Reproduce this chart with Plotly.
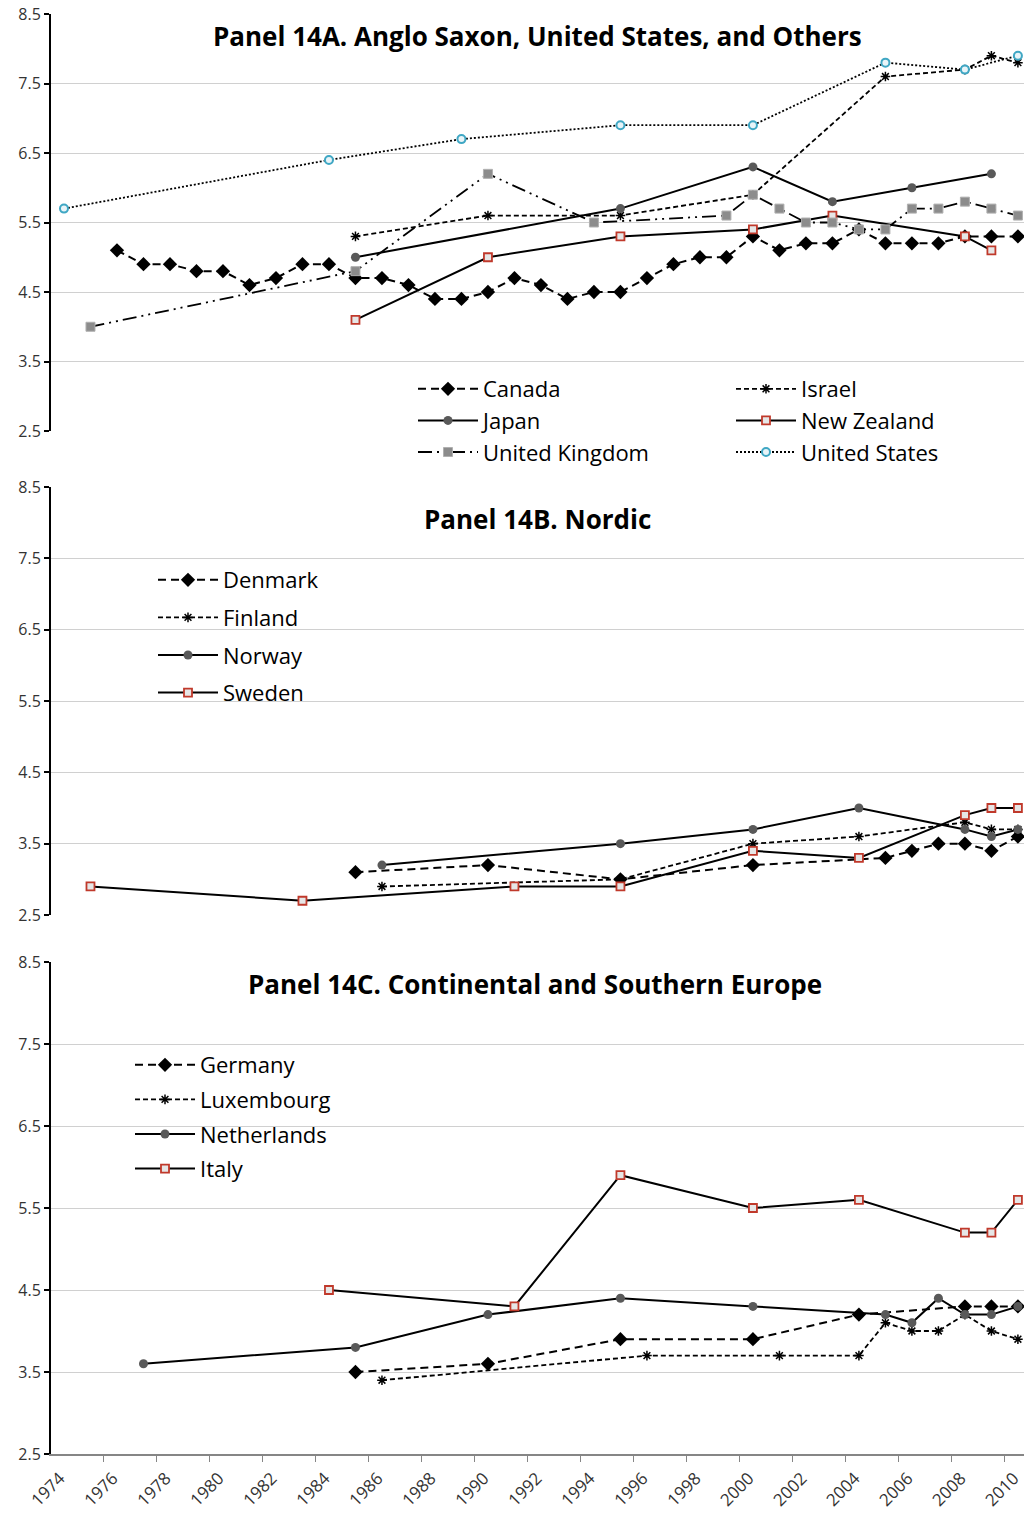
import plotly.graph_objects as go

# ---------------- data ----------------
# Panel A
canada_years = list(range(1976, 2011))
canada_vals = [5.1, 4.9, 4.9, 4.8, 4.8, 4.6, 4.7, 4.9, 4.9, 4.7, 4.7, 4.6, 4.4, 4.4, 4.5,
               4.7, 4.6, 4.4, 4.5, 4.5, 4.7, 4.9, 5.0, 5.0, 5.3, 5.1, 5.2, 5.2, 5.4, 5.2,
               5.2, 5.2, 5.3, 5.3, 5.3]
israel_years = [1985, 1990, 1995, 2000, 2005, 2008, 2009, 2010]
israel_vals = [5.3, 5.6, 5.6, 5.9, 7.6, 7.7, 7.9, 7.8]
japan_years = [1985, 1995, 2000, 2003, 2006, 2009]
japan_vals = [5.0, 5.7, 6.3, 5.8, 6.0, 6.2]
nz_years = [1985, 1990, 1995, 2000, 2003, 2008, 2009]
nz_vals = [4.1, 5.0, 5.3, 5.4, 5.6, 5.3, 5.1]
uk_years = [1975, 1985, 1990, 1994, 1999, 2000, 2001, 2002, 2003, 2004, 2005, 2006, 2007,
            2008, 2009, 2010]
uk_vals = [4.0, 4.8, 6.2, 5.5, 5.6, 5.9, 5.7, 5.5, 5.5, 5.4, 5.4, 5.7, 5.7, 5.8, 5.7, 5.6]
us_years = [1974, 1984, 1989, 1995, 2000, 2005, 2008, 2010]
us_vals = [5.7, 6.4, 6.7, 6.9, 6.9, 7.8, 7.7, 7.9]

# Panel B
denmark_years = [1985, 1990, 1995, 2000, 2005, 2006, 2007, 2008, 2009, 2010]
denmark_vals = [3.1, 3.2, 3.0, 3.2, 3.3, 3.4, 3.5, 3.5, 3.4, 3.6]
finland_years = [1986, 1995, 2000, 2004, 2008, 2009, 2010]
finland_vals = [2.9, 3.0, 3.5, 3.6, 3.8, 3.7, 3.7]
norway_years = [1986, 1995, 2000, 2004, 2008, 2009, 2010]
norway_vals = [3.2, 3.5, 3.7, 4.0, 3.7, 3.6, 3.7]
sweden_years = [1975, 1983, 1991, 1995, 2000, 2004, 2008, 2009, 2010]
sweden_vals = [2.9, 2.7, 2.9, 2.9, 3.4, 3.3, 3.9, 4.0, 4.0]

# Panel C
germany_years = [1985, 1990, 1995, 2000, 2004, 2008, 2009, 2010]
germany_vals = [3.5, 3.6, 3.9, 3.9, 4.2, 4.3, 4.3, 4.3]
lux_years = [1986, 1996, 2001, 2004, 2005, 2006, 2007, 2008, 2009, 2010]
lux_vals = [3.4, 3.7, 3.7, 3.7, 4.1, 4.0, 4.0, 4.2, 4.0, 3.9]
neth_years = [1977, 1985, 1990, 1995, 2000, 2005, 2006, 2007, 2008, 2009, 2010]
neth_vals = [3.6, 3.8, 4.2, 4.4, 4.3, 4.2, 4.1, 4.4, 4.2, 4.2, 4.3]
italy_years = [1984, 1991, 1995, 2000, 2004, 2008, 2009, 2010]
italy_vals = [4.5, 4.3, 5.9, 5.5, 5.6, 5.2, 5.2, 5.6]

year_ticks = list(range(1974, 2011, 2))
y_ticks = [2.5, 3.5, 4.5, 5.5, 6.5, 7.5, 8.5]

titles = ["Panel 14A. Anglo Saxon, United States, and Others",
          "Panel 14B. Nordic",
          "Panel 14C. Continental and Southern Europe"]

# ---------------- styles ----------------
FONT = "Open Sans"
DIAMOND = dict(symbol="diamond", size=11, color="black")
STAR = dict(symbol="asterisk-open", size=8, color="black", line=dict(color="black", width=1.5))
CIRCLE = dict(symbol="circle", size=9, color="#595959")
RSQUARE = dict(symbol="square", size=8, color="#e6e6e6", line=dict(color="#c0392b", width=1.8))
GSQUARE = dict(symbol="square", size=9, color="#8c8c8c", line=dict(color="#b0b0b0", width=1))
BCIRCLE = dict(symbol="circle", size=8, color="#e8f4f8", line=dict(color="#3fa7c4", width=2))

fig = go.Figure()


def add(name, xs, ys, yaxis, dash, width, marker, legend, group):
    fig.add_trace(go.Scatter(
        x=xs, y=ys, name=name, mode="lines+markers", yaxis=yaxis,
        line=dict(color="black", width=width, dash=dash),
        marker=marker, legend=legend, legendgroup=group,
    ))


# Panel A (Excel series order)
add("Canada", canada_years, canada_vals, "y", "8px,5px", 2, DIAMOND, "legend", "a1")
add("Israel", israel_years, israel_vals, "y", "5px,3px", 1.8, STAR, "legend2", "a2")
add("Japan", japan_years, japan_vals, "y", "solid", 2, CIRCLE, "legend", "a3")
add("New Zealand", nz_years, nz_vals, "y", "solid", 2, RSQUARE, "legend2", "a4")
add("United Kingdom", uk_years, uk_vals, "y", "14px,5px,2px,5px,2px,5px", 1.8, GSQUARE, "legend", "a5")
add("United States", us_years, us_vals, "y", "2px,2px", 1.8, BCIRCLE, "legend2", "a6")

# Panel B
add("Denmark", denmark_years, denmark_vals, "y2", "8px,5px", 2, DIAMOND, "legend3", "b1")
add("Finland", finland_years, finland_vals, "y2", "5px,3px", 1.8, STAR, "legend3", "b2")
add("Norway", norway_years, norway_vals, "y2", "solid", 2, CIRCLE, "legend3", "b3")
add("Sweden", sweden_years, sweden_vals, "y2", "solid", 2, RSQUARE, "legend3", "b4")

# Panel C
add("Germany", germany_years, germany_vals, "y3", "8px,5px", 2, DIAMOND, "legend4", "c1")
add("Luxembourg", lux_years, lux_vals, "y3", "5px,3px", 1.8, STAR, "legend4", "c2")
add("Netherlands", neth_years, neth_vals, "y3", "solid", 2, CIRCLE, "legend4", "c3")
add("Italy", italy_years, italy_vals, "y3", "solid", 2, RSQUARE, "legend4", "c4")

# ---------------- layout ----------------
W, H = 1024, 1519
ML, MR, MT, MB = 51, 0, 14, 1519 - 1454
PW, PH = W - ML - MR, H - MT - MB


def fx(px):  # screen px -> paper fraction
    return (px - ML) / PW


def fy(py):
    return 1 - (py - MT) / PH


yax = dict(range=[2.5, 8.5], tickvals=y_ticks, ticktext=[f"{v:.1f}" for v in y_ticks],
           showgrid=True, gridcolor="#d0d0d0", gridwidth=1, zeroline=False,
           showline=True, linecolor="black", linewidth=2, ticks="outside", ticklen=5,
           tickcolor="black", tickwidth=2, anchor="x", automargin=False,
           ticklabeloverflow="allow",
           tickfont=dict(family=FONT, size=16, color="#333333"))

LEG = dict(xanchor="left", yanchor="top", bgcolor="rgba(0,0,0,0)", itemwidth=60)
LFONT = dict(family=FONT, size=22)

fig.update_layout(
    width=W, height=H, margin=dict(l=ML, r=MR, t=MT, b=MB, autoexpand=False),
    paper_bgcolor="white", plot_bgcolor="white",
    font=dict(family=FONT, color="black"),
    xaxis=dict(range=[1973.51, 2010.23], tickvals=year_ticks, ticktext=[str(y) for y in year_ticks],
               tickangle=-45, ticks="", showgrid=False, zeroline=False, anchor="y3",
               showline=True, linecolor="#868686", linewidth=1.5, automargin=False,
               ticklabeloverflow="allow", ticklabelshift=-4, ticklabelstandoff=6,
               tickfont=dict(family=FONT, size=17, color="#333333"),
               minor=dict(tick0=1973.5, dtick=2, ticks="outside", ticklen=6,
                          tickcolor="#868686", tickwidth=1, showgrid=False)),
    yaxis=dict(yax, domain=[fy(431), fy(14)]),
    yaxis2=dict(yax, domain=[fy(915), fy(487)]),
    yaxis3=dict(yax, domain=[fy(1454), fy(962)]),
    legend=dict(LEG, x=fx(413), y=fy(368), font=LFONT, tracegroupgap=0),
    legend2=dict(LEG, x=fx(731), y=fy(368), font=LFONT, tracegroupgap=0),
    legend3=dict(LEG, x=fx(153), y=fy(559), font=LFONT, tracegroupgap=6),
    legend4=dict(LEG, x=fx(130), y=fy(1044), font=LFONT, tracegroupgap=3),
    showlegend=True,
)

title_pos = [(537, 36), (537, 519), (535, 984)]
for t, (px, py) in zip(titles, title_pos):
    fig.add_annotation(text=f"<b>{t}</b>", x=fx(px), y=fy(py), xref="paper", yref="paper",
                       showarrow=False, xanchor="center", yanchor="middle",
                       font=dict(family=FONT, size=26, color="black"))

fig.write_html("out.html", config={"displayModeBar": False},
               post_script="document.body.style.margin='0';document.body.style.overflow='hidden';")
